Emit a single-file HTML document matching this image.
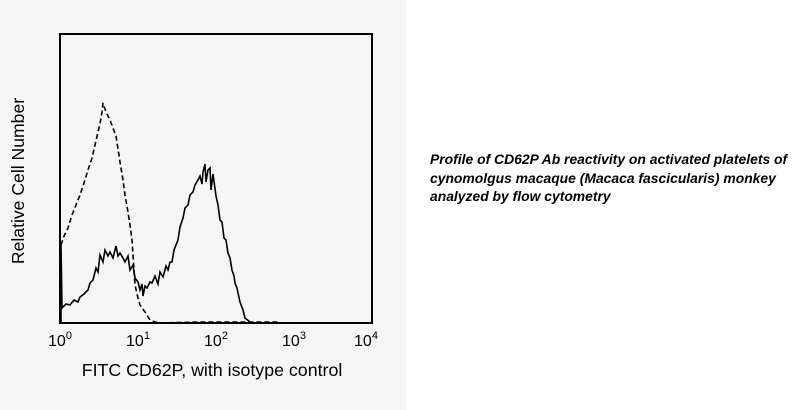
<!DOCTYPE html>
<html><head><style>
body{margin:0;width:802px;height:410px;background:#fff;position:relative;overflow:hidden;font-family:"Liberation Sans",Arial,sans-serif}
#l{position:absolute;left:0;top:0;width:406px;height:410px;background:#f6f6f6}
#cap{position:absolute;left:430px;top:150px;font-size:13.9px;font-weight:bold;font-style:italic;line-height:18.5px;color:#000;white-space:nowrap}
</style></head><body>
<div id="l"></div>
<svg width="802" height="410" style="position:absolute;left:0;top:0">
<rect x="60" y="34" width="312" height="289" fill="none" stroke="#000" stroke-width="2"/>
<polyline fill="none" stroke="#000" stroke-width="1.6" points="61,323 61,245 62,308 66,304 70,305 74,300 78,302 80,297 84,294 88,290 90,283 93,280 96,268 98,272 100,255 103,262 105,250 108,256 110,252 113,258 116,246 118,256 120,253 123,258 125,262 128,256 130,270 133,265 135,278 138,282 140,290 142,284 143,296 145,286 147,288 150,282 152,283 155,276 158,284 160,272 163,277 166,266 168,270 170,262 172,262 174,250 176,245 178,240 180,227 183,218 185,208 188,205 190,195 193,192 195,185 198,180 200,176 202,184 203,172 205,164 206,182 208,170 210,168 211,190 213,174 216,196 218,205 220,220 222,222 224,238 226,240 228,253 230,258 232,270 234,276 235,283 237,288 238,293 240,302 243,310 245,318 250,322 256,323"/>
<polyline fill="none" stroke="#000" stroke-width="1.6" stroke-dasharray="5,3" points="61,245 64,236 68,228 72,215 76,205 80,195 84,183 88,170 92,158 95,145 98,132 100,124 102,112 103,103 106,112 110,120 113,128 116,136 120,162 123,180 125,195 128,212 130,225 132,240 133,255 134,270 135,285 138,298 140,305 145,312 150,320 155,322 160,323 200,322 240,322 280,322"/>
<g font-size="16" text-anchor="middle" fill="#000">
<text x="60" y="346">10<tspan font-size="11" dy="-7">0</tspan></text>
<text x="138" y="346">10<tspan font-size="11" dy="-7">1</tspan></text>
<text x="216" y="346">10<tspan font-size="11" dy="-7">2</tspan></text>
<text x="294" y="346">10<tspan font-size="11" dy="-7">3</tspan></text>
<text x="366" y="346">10<tspan font-size="11" dy="-7">4</tspan></text>
<text x="212" y="376" font-size="17.8">FITC CD62P, with isotype control</text>
<text transform="translate(24,181) rotate(-90)" font-size="17.6">Relative Cell Number</text>
</g>
</svg>
<div id="cap">Profile of CD62P Ab reactivity on activated platelets of<br>cynomolgus macaque (Macaca fascicularis) monkey<br>analyzed by flow cytometry</div>
</body></html>
